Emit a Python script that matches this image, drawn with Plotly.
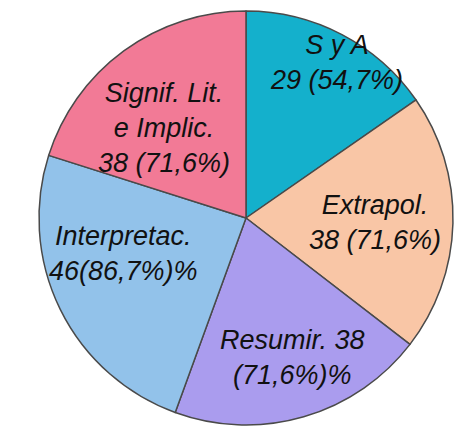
import math
import plotly.graph_objects as go

categories = ["S y A", "Extrapol.", "Resumir.", "Interpretac.", "Signif. Lit. e Implic."]
values = [29, 38, 38, 46, 38]
slice_texts = [
    "S y A<br>29 (54,7%)",
    "Extrapol.<br>38 (71,6%)",
    "Resumir. 38<br>(71,6%)%",
    "Interpretac.<br>46(86,7%)%",
    "Signif. Lit.<br>e Implic.<br>38 (71,6%)",
]
colors = ["#14b0cc", "#f9c6a6", "#aa9cee", "#92c2ea", "#f27a96"]

# styling for label placement (fraction of radius, angle nudge in degrees)
label_r = [0.87, 0.625, 0.713, 0.615, 0.588]
label_dang = [2.4, 0.4, -2.3, 9.8, -6.1]

W, H = 462, 419
dom_x = [31 / W, 445 / W]
dom_y = [2 / H, 416 / H]

fig = go.Figure(go.Pie(
    labels=categories,
    values=values,
    textinfo="none",
    sort=False,
    direction="clockwise",
    rotation=0,
    marker=dict(colors=colors, line=dict(color="#4a4a4a", width=1.5)),
    domain=dict(x=dom_x, y=dom_y),
    showlegend=False,
    hoverinfo="label+value",
))

# place labels at angles derived from the data (paper coordinates)
cx = (dom_x[0] + dom_x[1]) / 2 * W
cy = (dom_y[0] + dom_y[1]) / 2 * H
R = min((dom_x[1] - dom_x[0]) * W, (dom_y[1] - dom_y[0]) * H) / 2
total = sum(values)
cum = 0.0
for v, t, fr, da in zip(values, slice_texts, label_r, label_dang):
    mid = (cum + v / 2) / total * 360.0 + da
    cum += v
    a = math.radians(mid)
    px = cx + fr * R * math.sin(a)
    py = cy + fr * R * math.cos(a)
    fig.add_annotation(
        x=px / W, y=py / H, xref="paper", yref="paper",
        text=t, showarrow=False, align="center",
        xanchor="center", yanchor="middle",
        font=dict(family="Liberation Sans, Arial", size=27, color="#111111", style="italic"),
    )

fig.update_layout(
    width=W, height=H,
    margin=dict(l=0, r=0, t=0, b=0),
    paper_bgcolor="white",
    plot_bgcolor="white",
)

fig.write_html("out.html")
